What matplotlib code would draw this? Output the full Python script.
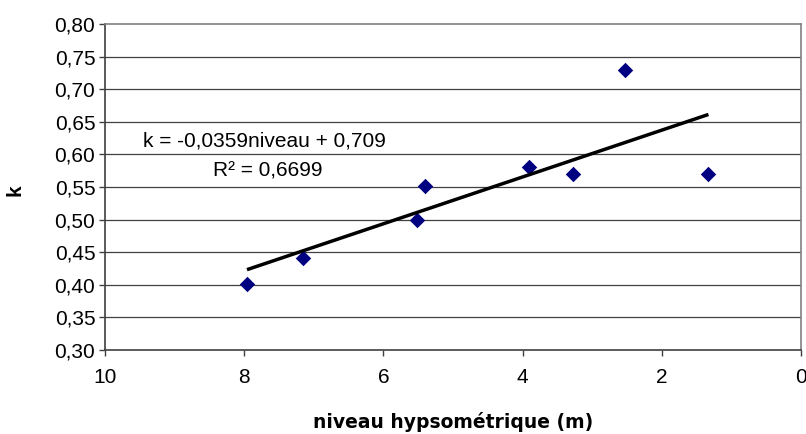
import matplotlib
matplotlib.use("Agg")
import matplotlib.pyplot as plt
import numpy as np

plt.rcParams['font.family'] = ['Liberation Sans', 'DejaVu Sans']

niveau = [7.96, 7.15, 5.52, 5.40, 3.91, 3.28, 2.53, 1.33]
k_vals = [0.401, 0.441, 0.499, 0.552, 0.580, 0.570, 0.729, 0.570]
slope = -0.0359
intercept = 0.709
eq_text = "k = -0,0359niveau + 0,709"
r2_text = "R² = 0,6699"
x_ticks = [10, 8, 6, 4, 2, 0]
y_ticks = [0.30, 0.35, 0.40, 0.45, 0.50, 0.55, 0.60, 0.65, 0.70, 0.75, 0.80]

fig = plt.figure(figsize=(8.06, 4.34), dpi=100)
ax = fig.add_axes([105/806, 1-350/434, (801-105)/806, (350-24)/434])

ax.set_xlim(10, 0)
ax.set_ylim(0.30, 0.80)
ax.set_xticks(x_ticks)
ax.set_xticklabels([str(v) for v in x_ticks])
ax.set_yticks(y_ticks)
ax.set_yticklabels([f"{v:.2f}".replace('.', ',') for v in y_ticks])

for y in y_ticks[1:-1]:
    ax.axhline(y, color='#404040', lw=0.9, zorder=1)

ax.scatter(niveau, k_vals, marker='D', s=62, color='#000080', zorder=3, linewidths=0)

xl = np.array([max(niveau), min(niveau)])
ax.plot(xl, slope*xl + intercept, color='black', lw=2.5, zorder=4, solid_capstyle='butt')

fig.text(143/806, 1-141/434, eq_text, fontsize=15, va='center', ha='left')
fig.text(213/806, 1-171/434, r2_text, fontsize=15, va='center', ha='left')

ax.spines['top'].set_color('#808080')
ax.spines['right'].set_color('#808080')
ax.spines['left'].set_color('#404040')
ax.spines['bottom'].set_color('#404040')
for s in ax.spines.values():
    s.set_linewidth(1.2)

ax.tick_params(axis='both', direction='out', length=4, width=1, color='#404040', labelsize=15)
ax.tick_params(axis='y', pad=3)
ax.tick_params(axis='x', pad=9)

fig.text(453/806, 1-422/434, "niveau hypsométrique (m)", fontsize=13.5,
         fontweight='bold', family=['DejaVu Sans'], ha='center', va='center')
fig.text(15/806, 1-190/434, "k", fontsize=15, fontweight='bold', rotation=90,
         ha='center', va='center')

fig.savefig("out.png", dpi=100)
